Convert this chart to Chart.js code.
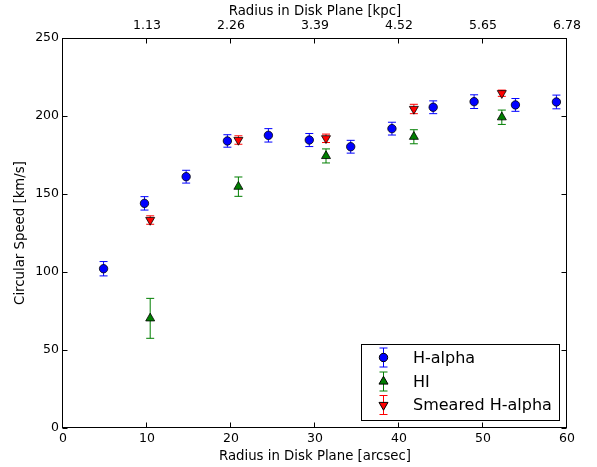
<!DOCTYPE html>
<html>
<head>
<meta charset="utf-8">
<script src="https://cdn.jsdelivr.net/npm/chart.js@4/dist/chart.umd.min.js"></script>
<style>
html,body{margin:0;padding:0;background:#fff;}
canvas{display:block;}
</style>
</head>
<body>
<canvas id="c" width="597" height="467"></canvas>
<script>
// ---- data ----
const seriesNames = ['H-alpha', 'HI', 'Smeared H-alpha'];
const halphaR   = [4.83, 9.70, 14.66, 19.57, 24.45, 29.32, 34.25, 39.16, 44.07, 48.94, 53.86, 58.74];
const halphaV   = [102.1, 144.0, 161.1, 184.0, 187.6, 184.6, 180.3, 191.9, 205.6, 209.2, 207.1, 209.0];
const halphaErr = [4.6, 4.3, 4.1, 4.0, 4.3, 4.2, 4.1, 4.1, 4.1, 4.4, 4.1, 4.4];
const hiR   = [10.38, 20.88, 31.31, 41.77, 52.24];
const hiV   = [70.3, 154.7, 174.4, 186.7, 199.2];
const hiErr = [12.8, 6.2, 4.5, 4.5, 4.6];
const smR   = [10.38, 20.88, 31.31, 41.77, 52.24];
const smV   = [133.3, 184.6, 185.7, 204.5, 214.6];
const smErr = [2.7, 2.7, 2.7, 3.0, 2.0];
const xTicks = [0, 10, 20, 30, 40, 50, 60];
const topTickLabels = ['', '1.13', '2.26', '3.39', '4.52', '5.65', '6.78'];
const yTicks = [0, 50, 100, 150, 200, 250];

const FONT = 'DejaVu Sans';
const colors = ['#0000ff', '#007f00', '#ff0000'];
const styles = ['circle', 'triangle', 'triangle'];
const rotations = [0, 0, 180];
const radii = [4.2, 5.2, 5.2];

function pts(xs, ys, es) { return xs.map((x, i) => ({x: x, y: ys[i], e: es[i]})); }

const datasets = [
  pts(halphaR, halphaV, halphaErr),
  pts(hiR, hiV, hiErr),
  pts(smR, smV, smErr)
].map((d, i) => ({
  label: seriesNames[i],
  data: d,
  xAxisID: 'x',
  yAxisID: 'y',
  backgroundColor: colors[i],
  borderColor: '#000',
  borderWidth: 0.8,
  pointStyle: styles[i],
  rotation: rotations[i],
  pointRadius: radii[i],
  pointHoverRadius: radii[i],
  showLine: false
}));

function drawErr(ctx, x, y0, y1, color) {
  ctx.save();
  ctx.strokeStyle = color;
  ctx.lineWidth = 1;
  ctx.beginPath();
  ctx.moveTo(x, y0); ctx.lineTo(x, y1);
  ctx.moveTo(x - 4, y0); ctx.lineTo(x + 4, y0);
  ctx.moveTo(x - 4, y1); ctx.lineTo(x + 4, y1);
  ctx.stroke();
  ctx.restore();
}

function drawMarker(ctx, x, y, i) {
  Chart.helpers.drawPoint(ctx, {
    pointStyle: styles[i], rotation: rotations[i], radius: radii[i], borderWidth: 0.8
  }, x, y);
}

const errorBars = {
  id: 'errorBars',
  beforeDatasetsDraw(chart) {
    const ctx = chart.ctx, xs = chart.scales.x, ys = chart.scales.y;
    chart.data.datasets.forEach((ds, i) => {
      ds.data.forEach(p => {
        const px = xs.getPixelForValue(p.x);
        drawErr(ctx, px, ys.getPixelForValue(p.y + p.e), ys.getPixelForValue(p.y - p.e), colors[i]);
      });
    });
  }
};

const frameAndLegend = {
  id: 'frameAndLegend',
  afterDraw(chart) {
    const ctx = chart.ctx, a = chart.chartArea, xs = chart.scales.x, ys = chart.scales.y;
    ctx.save();
    ctx.strokeStyle = '#000';
    ctx.lineWidth = 1;
    const L = Math.round(a.left) - 0.5, R = Math.round(a.right) - 0.5;
    const T = Math.round(a.top) + 0.5, B = Math.round(a.bottom) - 0.5;
    ctx.strokeRect(L, T, R - L, B - T);
    ctx.beginPath();
    xTicks.forEach(v => {
      const px = Math.round(xs.getPixelForValue(v)) - 0.5;
      ctx.moveTo(px, B); ctx.lineTo(px, B - 5);
      ctx.moveTo(px, T); ctx.lineTo(px, T + 5);
    });
    yTicks.forEach(v => {
      const py = Math.round(ys.getPixelForValue(v)) + 0.5;
      ctx.moveTo(L, py); ctx.lineTo(L + 5, py);
      ctx.moveTo(R, py); ctx.lineTo(R - 5, py);
    });
    ctx.stroke();

    // legend
    const bx = 361.5, by = 344.5, bw = 198, bh = 76;
    ctx.fillStyle = '#fff';
    ctx.fillRect(bx, by, bw, bh);
    ctx.strokeRect(bx, by, bw, bh);
    const rowY = [357.5, 381.5, 405];
    const mx = 383.5;
    ctx.font = '16px "' + FONT + '"';
    ctx.textBaseline = 'middle';
    ctx.textAlign = 'left';
    chart.data.datasets.forEach((ds, i) => {
      drawErr(ctx, mx, rowY[i] - 9.5, rowY[i] + 9.5, colors[i]);
      ctx.fillStyle = colors[i];
      ctx.strokeStyle = '#000';
      drawMarker(ctx, mx, rowY[i], i);
      ctx.fillStyle = '#000';
      ctx.fillText(ds.label, 413, rowY[i] + 1);
    });
    ctx.restore();
  }
};

const tickFont = {family: FONT, size: 12.5};
const titleFont = {family: FONT, size: 13.3};

new Chart(document.getElementById('c'), {
  type: 'scatter',
  data: {datasets: datasets},
  plugins: [errorBars, frameAndLegend],
  options: {
    responsive: false,
    devicePixelRatio: 1,
    animation: false,
    events: [],
    layout: {padding: {right: 30, left: 0, top: 0, bottom: 0}},
    plugins: {legend: {display: false}, tooltip: {enabled: false}},
    scales: {
      x: {
        type: 'linear', position: 'bottom', min: 0, max: 60,
        afterBuildTicks: s => { s.ticks = xTicks.map(v => ({value: v})); },
        afterFit: s => { s.height = 39; },
        grid: {display: false, drawTicks: false},
        border: {display: false},
        ticks: {font: tickFont, color: '#000', padding: 3, maxRotation: 0, autoSkip: false},
        title: {display: true, text: 'Radius in Disk Plane [arcsec]', font: titleFont, color: '#000', padding: {top: 0, bottom: 2.3}}
      },
      x2: {
        type: 'linear', position: 'top', min: 0, max: 60,
        afterBuildTicks: s => { s.ticks = xTicks.map(v => ({value: v})); },
        afterFit: s => { s.height = 38; },
        grid: {display: false, drawTicks: false},
        border: {display: false},
        ticks: {font: tickFont, color: '#000', padding: 4.5, maxRotation: 0, autoSkip: false,
          callback: (v, i) => topTickLabels[i]},
        title: {display: true, text: 'Radius in Disk Plane [kpc]', font: titleFont, color: '#000', padding: {top: 3.7, bottom: 0}}
      },
      y: {
        type: 'linear', position: 'left', min: 0, max: 250,
        afterBuildTicks: s => { s.ticks = yTicks.map(v => ({value: v})); },
        afterFit: s => { s.width = 63; },
        grid: {display: false, drawTicks: false},
        border: {display: false},
        ticks: {font: tickFont, color: '#000', padding: 4},
        title: {display: true, text: 'Circular Speed [km/s]', font: titleFont, color: '#000', padding: {top: 13, bottom: 0}}
      }
    }
  }
});
</script>
</body>
</html>
